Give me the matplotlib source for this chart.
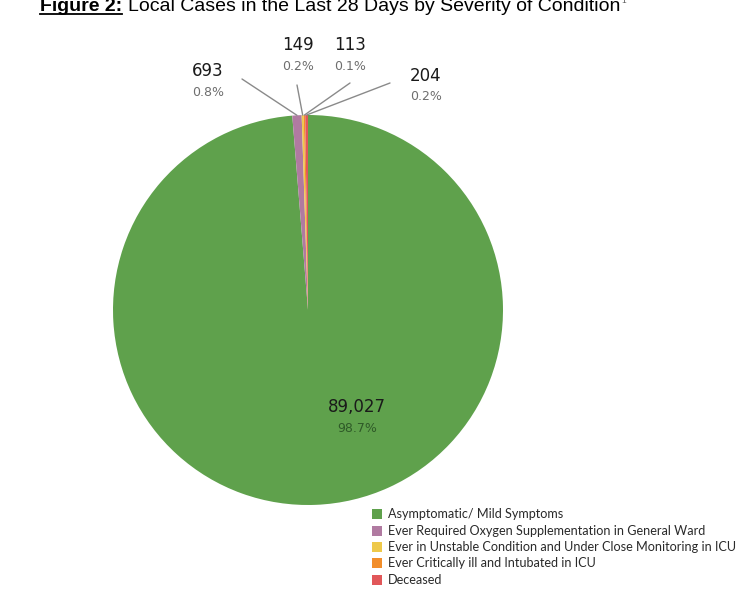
import matplotlib
matplotlib.use("Agg")
import matplotlib.pyplot as plt
from matplotlib.patches import Rectangle
import numpy as np

categories = [
    "Asymptomatic/ Mild Symptoms",
    "Ever Required Oxygen Supplementation in General Ward",
    "Ever in Unstable Condition and Under Close Monitoring in ICU",
    "Ever Critically ill and Intubated in ICU",
    "Deceased",
]
values = [89027, 693, 149, 113, 204]
colors = ["#5fa14c", "#b07aa1", "#eec94a", "#f28e2b", "#e15759"]

W, H = 747, 598
fig = plt.figure(figsize=(W / 100, H / 100), dpi=100)
fig.patch.set_facecolor("white")

def fx(x):
    return x / W

def fy(y):
    return 1 - y / H

# pie area: centre (308,310), radius 195 px
cx, cy, R = 308, 310, 195
ax = fig.add_axes([fx(cx - R), fy(cy + R), 2 * R / W, 2 * R / H])
wedges, _ = ax.pie(values, colors=colors, startangle=90, counterclock=False,
                   radius=1, wedgeprops=dict(linewidth=0))
ax.set_xlim(-1, 1)
ax.set_ylim(-1, 1)
ax.set_aspect("equal")
ax.axis("off")

total = sum(values)
pcts = [f"{v / total * 100:.1f}%" for v in values]
nums = [f"{v:,}" for v in values]

# label positions (pixels) for number, and line start points
label_pos = [(357, 407), (208, 71), (298, 45), (350, 45), (426, 76)]
line_start = [None, (242, 79), (297, 85), (350, 83), (390, 83)]

num_font = dict(family="DejaVu Sans", fontsize=12, color="#1a1a1a")
pct_font = dict(family="DejaVu Sans", fontsize=9, color="#6e6e6e")

for i, w in enumerate(wedges):
    lx, ly = label_pos[i]
    fig.text(fx(lx), fy(ly), nums[i], ha="center", va="center", **num_font)
    pc = dict(pct_font)
    if i == 0:
        pc["color"] = "#2f5a28"
    fig.text(fx(lx), fy(ly + 21), pcts[i], ha="center", va="center", **pc)
    if line_start[i] is not None:
        ang = np.deg2rad((w.theta1 + w.theta2) / 2)
        ex, ey = np.cos(ang), np.sin(ang)
        sx, sy = line_start[i]
        ax.annotate("", xy=(ex, ey), xycoords="data",
                    xytext=(fx(sx), fy(sy)), textcoords="figure fraction",
                    arrowprops=dict(arrowstyle="-", color="#8a8a8a", lw=1,
                                    shrinkA=0, shrinkB=0),
                    annotation_clip=False)

# legend
leg_y = [514, 531, 547, 563, 580]
for i, cat in enumerate(categories):
    y = leg_y[i]
    fig.patches.append(Rectangle((fx(372), fy(y + 5)), 10 / W, 10 / H,
                                 transform=fig.transFigure, facecolor=colors[i],
                                 edgecolor="none"))
    fig.text(fx(388), fy(y), cat, ha="left", va="center",
             family="Lato", fontsize=9.1, color="#2a2a2a")

# title (partially cut at the top)
base = 10.8
t1 = fig.text(fx(40), fy(base), "Figure 2:", ha="left", va="baseline",
              family="Liberation Sans", fontsize=14, fontweight="bold", color="black")
fig.canvas.draw()
r = fig.canvas.get_renderer()
bb = t1.get_window_extent(r)
fig.add_artist(plt.Line2D([bb.x0 / W, bb.x1 / W], [fy(13.6), fy(13.6)],
                          transform=fig.transFigure, color="black", lw=1.3))
t2 = fig.text((bb.x1 + 6) / W, fy(base), "Local Cases in the Last 28 Days by Severity of Condition",
              ha="left", va="baseline", family="Liberation Sans", fontsize=14, color="black")
bb2 = t2.get_window_extent(r)
fig.text((bb2.x1 + 1) / W, fy(base - 8), "1", ha="left", va="baseline",
         family="Liberation Sans", fontsize=6, color="#555555")

fig.savefig("out.png", dpi=100)
